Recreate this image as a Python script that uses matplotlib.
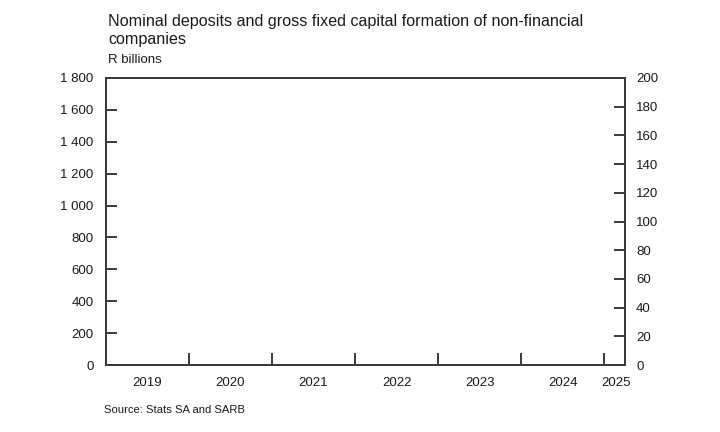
import matplotlib
matplotlib.use("Agg")
import matplotlib.pyplot as plt
import numpy as np

plt.rcParams['font.family'] = ['Liberation Sans', 'DejaVu Sans']

title = "Nominal deposits and gross fixed capital formation of non-financial\ncompanies"
unit_label = "R billions"
source = "Source: Stats SA and SARB"

years = [2019, 2020, 2021, 2022, 2023, 2024, 2025]
year_label_pos = [2019.5, 2020.5, 2021.5, 2022.5, 2023.5, 2024.5, 2025.14]
year_boundaries = [2020, 2021, 2022, 2023, 2024, 2025]
x_start, x_end = 2019.0, 2025.25

left_ticks = [0, 200, 400, 600, 800, 1000, 1200, 1400, 1600, 1800]
right_ticks = [0, 20, 40, 60, 80, 100, 120, 140, 160, 180, 200]

# No data series are plotted in the reference chart
deposits = []
gfcf = []

def fmt(v):
    return f"{v:,}".replace(",", " ")

fig = plt.figure(figsize=(7.2, 4.32), dpi=100)
ax = fig.add_axes([106/720, 1 - 365/432, (625-106)/720, (365-78)/432])
ax2 = ax.twinx()

spine_col = "#3a3a3a"
for a in (ax, ax2):
    for s in a.spines.values():
        s.set_color(spine_col)
        s.set_linewidth(1.4)

ax.set_xlim(x_start, x_end)
ax.set_ylim(0, 1800)
ax2.set_ylim(0, 200)

ax.set_yticks(left_ticks)
ax.set_yticklabels([fmt(v) for v in left_ticks])
ax2.set_yticks(right_ticks)
ax2.set_yticklabels([str(v) for v in right_ticks])

ax.set_xticks(year_boundaries)
ax.set_xticklabels([])
ax.set_xticks(year_label_pos, minor=True)
ax.set_xticklabels([str(y) for y in years], minor=True)

ax.tick_params(axis='x', which='major', direction='in', length=9, width=1.4, color=spine_col)
ax.tick_params(axis='x', which='minor', length=0, pad=9, labelsize=9.5, colors="#1a1a1a")
ax.tick_params(axis='y', direction='in', length=8, width=1.4, color=spine_col, labelsize=9.5, pad=9, labelcolor="#1a1a1a")
ax2.tick_params(axis='y', direction='in', length=8, width=1.4, color=spine_col, labelsize=9.5, pad=8, labelcolor="#1a1a1a")

if deposits:
    ax.plot(deposits)
if gfcf:
    ax2.plot(gfcf)

fig.text(108/720, 1 - 14/432, title, fontsize=11.6, va='top', ha='left', color="#1a1a1a", linespacing=1.25)
fig.text(108/720, 1 - 60/432, unit_label, fontsize=9.5, va='center', ha='left', color="#1a1a1a")
fig.text(104/720, 1 - 410/432, source, fontsize=8.1, va='center', ha='left', color="#1a1a1a")

fig.savefig("out.png", dpi=100)
